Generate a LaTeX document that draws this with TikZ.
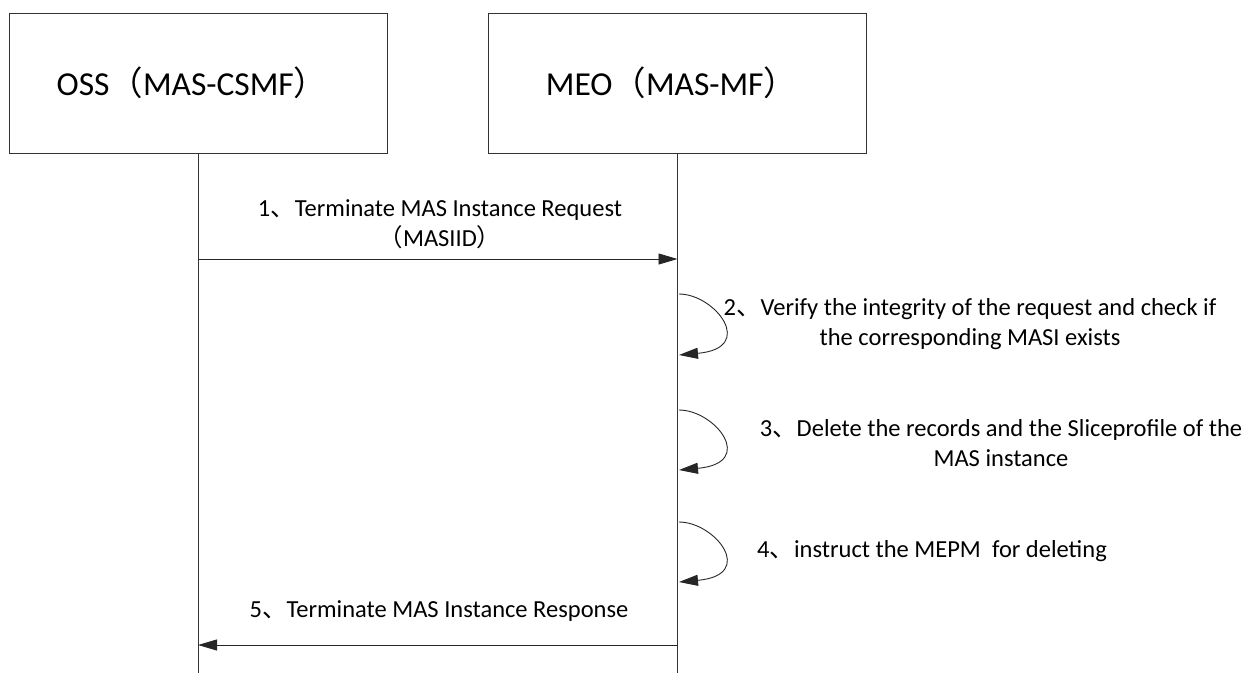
\documentclass[tikz,border=0pt]{standalone}
\usepackage{fontspec}
\setmainfont{Carlito}
\newfontfamily\cjk{Noto Sans CJK SC}
\usetikzlibrary{arrows.meta}
\tikzset{
  actor/.style={draw=black!80, line width=0.9pt, minimum width=378pt, minimum height=140pt, inner sep=0pt},
  title/.style={font=\fontsize{33.5}{40}\selectfont, inner sep=0pt},
  life/.style={draw=black!80, line width=0.9pt},
  msg/.style={draw=black!85, line width=0.9pt, -{Triangle[length=19pt,width=11pt]}},
  lbl/.style={font=\fontsize{24.5}{30.5}\selectfont, align=center, inner sep=0pt},
}
\begin{document}
\begin{tikzpicture}[x=1pt,y=-1pt]
\useasboundingbox (0,0) rectangle (1248,673);
\node[actor] (oss) at (198,83) {};
\node[actor] (meo) at (677.5,83) {};
\node[title] (ossT) at ([xshift=-6pt]oss.center) {OSS{\cjk （}MAS-CSMF{\cjk ）}};
\node[title] (meoT) at ([xshift=-6pt]meo.center) {MEO{\cjk （}MAS-MF{\cjk ）}};
\coordinate (ossb) at (oss.south |- 0,673);
\coordinate (meob) at (meo.south |- 0,673);
\draw[life] (oss.south) -- (ossb);
\draw[life] (meo.south) -- (meob);
% message 1
\coordinate (m1s) at (oss.south |- 0,259);
\coordinate (m1e) at (meo.south |- 0,259);
\draw[msg] (m1s) -- (m1e);
\node[lbl] (t1) at (440,224) {1{\cjk 、}Terminate MAS Instance Request\\{\cjk （}MASIID{\cjk ）}};
% self 2
\coordinate (s2a) at (679,294);
\coordinate (s2b) at (679,355);
\draw[msg] (s2a) .. controls (715,294) and (757,348) .. (s2b);
\node[lbl] (t2) at (970,324) {2{\cjk 、}Verify the integrity of the request and check if\\the corresponding MASI exists};
% self 3
\coordinate (s3a) at (679,410);
\coordinate (s3b) at (679,470);
\draw[msg] (s3a) .. controls (715,410) and (757,463) .. (s3b);
\node[lbl] (t3) at (1001,443) {3{\cjk 、}Delete the records and the Sliceprofile of the\\MAS instance};
% self 4
\coordinate (s4a) at (679,522);
\coordinate (s4b) at (679,582);
\draw[msg] (s4a) .. controls (715,522) and (757,575) .. (s4b);
\node[lbl, anchor=west] (t4) at (757,551) {4{\cjk 、}instruct the MEPM\ \ for deleting};
% message 5
\coordinate (m5s) at (meo.south |- 0,645);
\coordinate (m5e) at (oss.south |- 0,645);
\draw[msg] (m5s) -- (m5e);
\node[lbl] (t5) at (439,611) {5{\cjk 、}Terminate MAS Instance Response};
\end{tikzpicture}
\end{document}
